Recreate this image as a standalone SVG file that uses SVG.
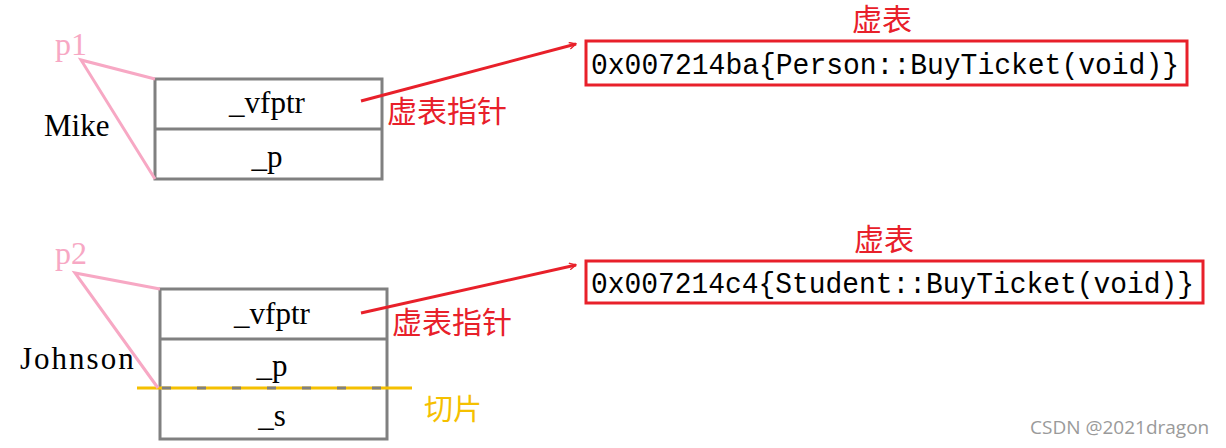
<svg xmlns="http://www.w3.org/2000/svg" width="1226" height="448" viewBox="0 0 1226 448">
<style>
.box{fill:none;stroke:#808080;stroke-width:3}
.div{stroke:#808080;stroke-width:3}
.pink{stroke:#f7a8c4;stroke-width:3;fill:none}
.fld{font-family:"Liberation Serif",serif;font-size:31px;fill:#000;text-anchor:middle}
.name{font-family:"Liberation Serif",serif;font-size:31px;fill:#000}
.ptr{font-family:"Liberation Serif",serif;font-size:32px;fill:#f7a8c4}
.red{font-family:"Noto Sans CJK SC",sans-serif;font-size:30px;fill:#e8202a}
.arrow{stroke:#e8202a;stroke-width:3;fill:none}
.vt{fill:none;stroke:#e8202a;stroke-width:3}
.mono{font-family:"Liberation Mono",monospace;font-size:30px;fill:#000}
</style>
<defs>
<marker id="ah" viewBox="0 0 12 12" refX="11" refY="6" markerWidth="8" markerHeight="8" markerUnits="userSpaceOnUse" orient="auto">
<path d="M1,1 L11,6 L1,11" fill="none" stroke="#e8202a" stroke-width="2"/>
</marker>
</defs>
<rect width="1226" height="448" fill="#fff"/>

<g id="mike">
<rect class="box" x="155" y="79" width="227" height="100"/>
<line class="div" x1="155" y1="129" x2="382" y2="129"/>
<text class="fld" x="267" y="113">_vfptr</text>
<text class="fld" x="267" y="167">_p</text>
<text class="name" x="44" y="136">Mike</text>
</g>
<g id="p1">
<text class="ptr" x="55" y="55">p1</text>
<polyline class="pink" points="155,79 81,60 155,179"/>
</g>

<g id="johnson">
<rect class="box" x="160" y="289" width="227" height="150"/>
<line class="div" x1="160" y1="339" x2="387" y2="339"/>
<line x1="137" y1="388" x2="412" y2="388" stroke="#f5c000" stroke-width="3"/>
<line x1="162" y1="388" x2="385" y2="388" stroke="#808080" stroke-width="3" stroke-dasharray="9 26"/>
<text class="fld" x="272" y="376">_p</text>
<text class="fld" x="272" y="426">_s</text>
<text class="fld" x="272" y="324">_vfptr</text>
<text class="name" x="20" y="369" letter-spacing="2">Johnson</text>
</g>
<g id="p2">
<text class="ptr" x="55" y="264">p2</text>
<polyline class="pink" points="160,289 75,273 158,388"/>
</g>

<g id="vtable1">
<text class="red" x="882" y="30" text-anchor="middle">虚表</text>
<rect class="vt" x="586" y="41" width="601" height="44"/>
<text class="mono" x="591" y="74" textLength="588" lengthAdjust="spacingAndGlyphs">0x007214ba{Person::BuyTicket(void)}</text>
</g>
<g id="vtable2">
<text class="red" x="884" y="250" text-anchor="middle">虚表</text>
<rect class="vt" x="586" y="261" width="617" height="42"/>
<text class="mono" x="591" y="293" textLength="603" lengthAdjust="spacingAndGlyphs">0x007214c4{Student::BuyTicket(void)}</text>
</g>

<g id="connectors">
<line class="arrow" x1="361" y1="101" x2="576" y2="44" marker-end="url(#ah)"/>
<line class="arrow" x1="361" y1="313" x2="576" y2="265" marker-end="url(#ah)"/>
</g>
<g id="labels">
<text class="red" x="387" y="122">虚表指针</text>
<text class="red" x="392" y="333">虚表指针</text>
<text x="424" y="420" font-family="'Noto Sans CJK SC',sans-serif" font-size="29" fill="#f5c000">切片</text>
<text x="1030" y="434" font-family="'Open Sans',sans-serif" font-size="19" fill="#9a9a9a">CSDN @2021dragon</text>
</g>
</svg>
